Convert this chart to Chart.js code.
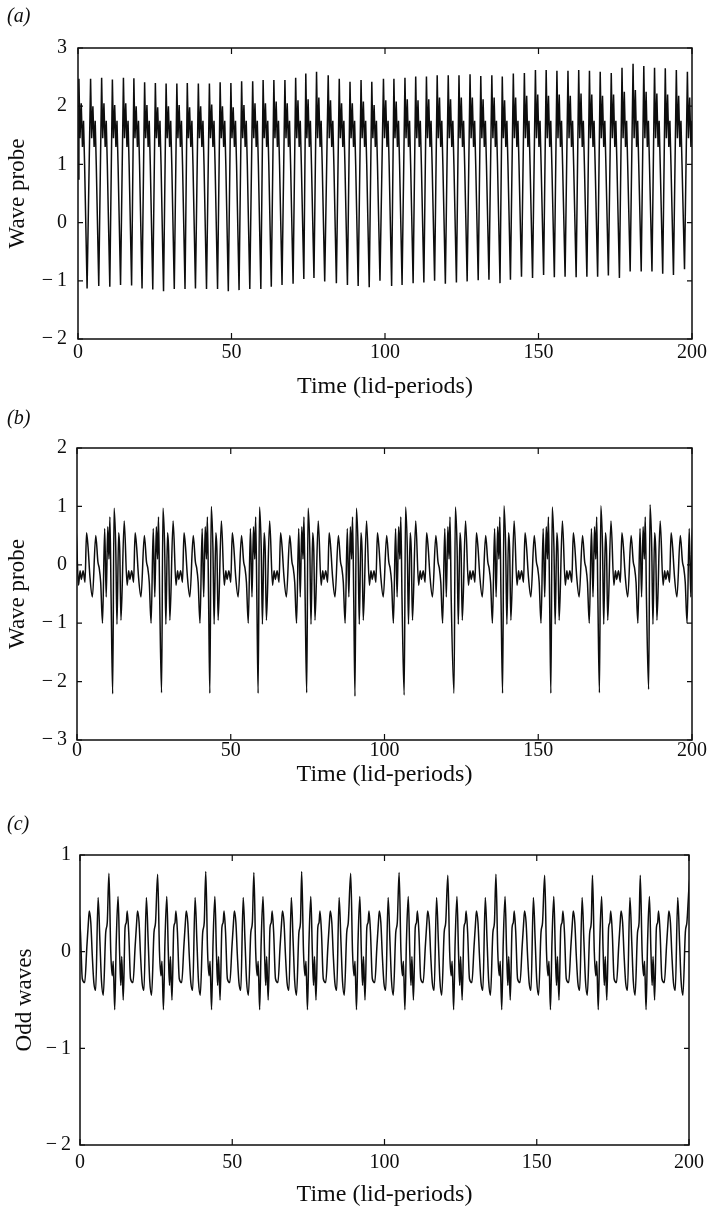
<!DOCTYPE html>
<html>
<head>
<meta charset="utf-8">
<script src="https://cdn.jsdelivr.net/npm/chart.js@4.4.1/dist/chart.umd.min.js"></script>
<style>
  html, body { margin: 0; padding: 0; background: #fff; }
  .panel { position: absolute; left: 0; }
</style>
</head>
<body>
<canvas id="panelA" class="panel" width="712" height="403" style="top:0"></canvas>
<canvas id="panelB" class="panel" width="712" height="403" style="top:403px"></canvas>
<canvas id="panelC" class="panel" width="712" height="403" style="top:806px"></canvas>
<script>
// ticks shared by all three panels
const xTicks = [0, 50, 100, 150, 200];

// (a) wave probe: one tall peak per cycle
const aStartY = 0.75;
const aPeakT = [0.3, 4.1, 7.7, 11.2, 14.8, 18.2, 21.7, 25.2, 28.7, 32.2, 35.6, 39.2, 42.8, 46.3, 49.8,
  53.3, 56.9, 60.3, 63.8, 67.4, 70.9, 74.2, 77.7, 81.5, 85.1, 88.6, 92.2, 95.7, 99.5, 102.9, 106.5,
  110.0, 113.5, 117.0, 120.6, 124.1, 127.7, 131.2, 134.8, 138.2, 141.8, 145.4, 149.0, 152.5, 156.0,
  159.6, 163.1, 166.6, 170.1, 173.7, 177.2, 180.8, 184.3, 187.8, 191.3, 194.9, 198.5];
const aPeakY = [2.47, 2.47, 2.49, 2.46, 2.49, 2.48, 2.41, 2.40, 2.39, 2.39, 2.40, 2.39, 2.39, 2.41, 2.40,
  2.43, 2.43, 2.45, 2.45, 2.45, 2.49, 2.56, 2.59, 2.53, 2.47, 2.42, 2.45, 2.42, 2.47, 2.47, 2.49,
  2.51, 2.51, 2.53, 2.53, 2.53, 2.55, 2.52, 2.53, 2.51, 2.56, 2.57, 2.62, 2.62, 2.61,
  2.61, 2.62, 2.61, 2.59, 2.57, 2.66, 2.73, 2.69, 2.66, 2.65, 2.62, 2.59];
const aSecondY = [2.05, 2.00, 2.05, 2.02, 2.05, 2.00, 2.02, 1.98, 2.00, 2.02, 1.98, 2.00, 2.03, 2.00, 1.98,
  2.02, 2.05, 2.05, 2.08, 2.05, 2.10, 2.12, 2.15, 2.10, 2.05, 2.05, 2.08, 2.02, 2.10, 2.08, 2.12,
  2.10, 2.12, 2.15, 2.12, 2.15, 2.15, 2.12, 2.15, 2.10, 2.15, 2.18, 2.20, 2.18, 2.20,
  2.18, 2.22, 2.20, 2.18, 2.20, 2.25, 2.28, 2.25, 2.22, 2.20, 2.18, 2.15];
const aTroughY = [-1.13, -1.09, -1.10, -1.07, -1.08, -1.13, -1.15, -1.18, -1.14, -1.14, -1.13, -1.14, -1.14, -1.18, -1.16,
  -1.14, -1.14, -1.10, -1.07, -1.05, -0.97, -0.95, -1.01, -1.04, -1.07, -1.09, -1.11, -1.00, -1.09, -1.07, -1.04,
  -1.03, -1.00, -1.05, -1.03, -1.01, -0.99, -0.98, -1.04, -0.98, -0.93, -0.95, -0.90, -0.94, -0.93,
  -0.94, -0.93, -0.93, -0.91, -0.95, -0.84, -0.84, -0.84, -0.88, -0.90, -0.80, -0.95];
const aDipDt = [0.35, 1.15, 1.5, 1.85];
const aDipY = [1.45, 1.3, 1.75, 1.0];
const aSecondDt = 0.75;
const aTroughDt = 2.66;

// (b) wave probe: deep spike once per long cycle
const bSpikeT = [-4.2, 11.6, 27.5, 43.2, 58.9, 74.7, 90.4, 106.4, 122.6, 138.4, 154.1, 169.9, 185.9];
const bSpikeY = [-2.2, -2.21, -2.19, -2.2, -2.2, -2.19, -2.25, -2.23, -2.2, -2.2, -2.2, -2.19, -2.13];
const bAfterY = [0.97, 0.97, 0.97, 1.0, 0.99, 0.97, 0.97, 0.99, 0.99, 1.01, 0.99, 1.01, 1.03];
const bAfterDt = 0.45;
const bShapeDt = [1.0, 1.4, 1.95, 2.3, 2.7, 3.75, 4.7, 5.2, 5.6, 6.2, 6.8, 7.3, 7.8, 8.4, 9.2,
  10.3, 11.0, 11.4, 11.9, 12.5, 13.2, 13.7, 14.2, 14.6, 14.9, 15.3];
const bShapeY = [0.3, -1.02, 0.55, 0.25, -0.95, 0.75, -0.35, -0.1, -0.25, -0.1, -0.3, 0.55, 0.3, -0.2, -0.55,
  0.5, 0.05, -0.05, -0.3, -1.0, 0.62, -0.55, 0.65, 0.1, 0.82, -0.6];

// (c) odd waves: tall peak once per long cycle
const cPeakT = [-6.35, 9.5, 25.5, 41.3, 57.1, 72.8, 88.9, 104.8, 120.8, 136.6, 152.6, 168.3, 184.0, 200.4];
const cPeakY = [0.8, 0.81, 0.80, 0.83, 0.82, 0.83, 0.81, 0.82, 0.79, 0.80, 0.79, 0.79, 0.79, 0.8];
const cShapeDt = [0.6, 1.1, 1.4, 1.9, 2.4, 3.0, 3.5, 3.9, 4.2, 4.7, 5.3, 5.7, 6.0, 6.5, 7.1,
  7.9, 8.6, 9.1, 9.4, 9.9, 10.4, 10.9, 11.5, 12.3, 12.9, 13.4, 14.0, 14.8, 15.3];
const cShapeY = [0.0, -0.25, -0.1, -0.6, 0.1, 0.57, 0.0, -0.35, -0.05, -0.5, 0.25, 0.3, 0.42, 0.2, -0.28,
  -0.32, 0.05, 0.3, 0.42, 0.3, -0.05, -0.32, -0.4, 0.56, 0.1, -0.3, -0.45, 0.2, 0.3];


const aPoints = [{ x: 0, y: aStartY }];
aPeakT.forEach((t, i) => {
  aPoints.push({ x: t, y: aPeakY[i] });
  aDipDt.forEach((dt, j) => aPoints.push({ x: t + dt, y: aDipY[j] }));
  aPoints.push({ x: t + aSecondDt, y: aSecondY[i] });
  aPoints.push({ x: t + aTroughDt, y: aTroughY[i] });
});
aPoints.sort((p, q) => p.x - q.x);

const bPoints = [];
bSpikeT.forEach((t, i) => {
  bPoints.push({ x: t, y: bSpikeY[i] }, { x: t + bAfterDt, y: bAfterY[i] });
  bShapeDt.forEach((dt, j) => bPoints.push({ x: t + dt, y: bShapeY[j] }));
});

const cPoints = [];
cPeakT.forEach((t, i) => {
  cPoints.push({ x: t, y: cPeakY[i] });
  cShapeDt.forEach((dt, j) => cPoints.push({ x: t + dt, y: cShapeY[j] }));
});


const serif = '"Liberation Serif", "Times New Roman", serif';
const ink = '#0d0d0d';

// box round the plot, inward ticks on all four sides, panel letter
const frame = {
  id: 'frame',
  afterDraw(chart, args, opts) {
    const { ctx, chartArea: a, scales: { x, y } } = chart;
    ctx.save();
    ctx.strokeStyle = ink;
    ctx.lineWidth = 1.5;
    ctx.strokeRect(a.left, a.top, a.right - a.left, a.bottom - a.top);
    ctx.lineWidth = 1.2;
    ctx.beginPath();
    x.ticks.forEach(t => {
      const px = x.getPixelForValue(t.value);
      ctx.moveTo(px, a.bottom); ctx.lineTo(px, a.bottom - 6);
      ctx.moveTo(px, a.top); ctx.lineTo(px, a.top + 6);
    });
    y.ticks.forEach(t => {
      const py = y.getPixelForValue(t.value);
      ctx.moveTo(a.left, py); ctx.lineTo(a.left + 5, py);
      ctx.moveTo(a.right, py); ctx.lineTo(a.right - 5, py);
    });
    ctx.stroke();
    ctx.fillStyle = ink;
    ctx.font = 'italic 20px ' + serif;
    ctx.textBaseline = 'middle';
    ctx.fillText(opts.label, 7, opts.labelY);
    ctx.restore();
  }
};

function drawPanel(id, points, p) {
  return new Chart(document.getElementById(id), {
    type: 'line',
    data: {
      datasets: [{
        data: points,
        borderColor: ink,
        borderWidth: 1.5,
        pointRadius: 0,
        tension: 0,
        cubicInterpolationMode: p.smooth ? 'monotone' : 'default'
      }]
    },
    plugins: [frame],
    options: {
      responsive: false,
      animation: false,
      events: [],
      layout: { padding: { left: 0, right: p.padRight, top: p.padTop, bottom: 0 } },
      plugins: {
        legend: { display: false },
        tooltip: { enabled: false },
        frame: { label: p.label, labelY: p.labelY }
      },
      scales: {
        x: {
          type: 'linear',
          min: 0,
          max: 200,
          afterBuildTicks: s => { s.ticks = xTicks.map(v => ({ value: v })); },
          afterFit: s => { s.height = p.xHeight; },
          grid: { display: false, drawTicks: false },
          border: { display: false },
          ticks: {
            color: ink,
            padding: p.xTickPad,
            maxRotation: 0,
            font: { family: serif, size: 20, lineHeight: 1 }
          },
          title: {
            display: true,
            text: 'Time (lid-periods)',
            color: ink,
            padding: { top: 0, bottom: p.xTitlePad },
            font: { family: serif, size: 24, lineHeight: 1 }
          }
        },
        y: {
          min: p.yMin,
          max: p.yMax,
          afterBuildTicks: s => { s.ticks = p.yTicks.map(v => ({ value: v })); },
          afterFit: s => { s.width = p.yWidth; },
          grid: { display: false, drawTicks: false },
          border: { display: false },
          ticks: {
            color: ink,
            padding: p.yTickPad,
            font: { family: serif, size: 20, lineHeight: 1 },
            callback: v => v < 0 ? '\u2212\u2009' + Math.abs(v) : String(v)
          },
          title: {
            display: true,
            text: p.yTitle,
            color: ink,
            padding: { top: p.yTitlePad, bottom: 0 },
            font: { family: serif, size: 23, lineHeight: 1 }
          }
        }
      }
    }
  });
}

drawPanel('panelA', aPoints, {
  label: '(a)', labelY: 17, yTitle: 'Wave probe', yMin: -2, yMax: 3, yTicks: [-2, -1, 0, 1, 2, 3],
  padTop: 48, padRight: 20, yWidth: 78, xHeight: 64,
  xTickPad: 4, xTitlePad: 4, yTickPad: 11, yTitlePad: 6, smooth: false
});

drawPanel('panelB', bPoints, {
  label: '(b)', labelY: 16, yTitle: 'Wave probe', yMin: -3, yMax: 2, yTicks: [-3, -2, -1, 0, 1, 2],
  padTop: 45, padRight: 20, yWidth: 77, xHeight: 66,
  xTickPad: 1, xTitlePad: 19, yTickPad: 10, yTitlePad: 6, smooth: true
});

drawPanel('panelC', cPoints, {
  label: '(c)', labelY: 19, yTitle: 'Odd waves', yMin: -2, yMax: 1, yTicks: [-2, -1, 0, 1],
  padTop: 49, padRight: 19, yWidth: 80, xHeight: 64,
  xTickPad: 8, xTitlePad: 2, yTickPad: 9, yTitlePad: 13, smooth: true
});
</script>
</body>
</html>
